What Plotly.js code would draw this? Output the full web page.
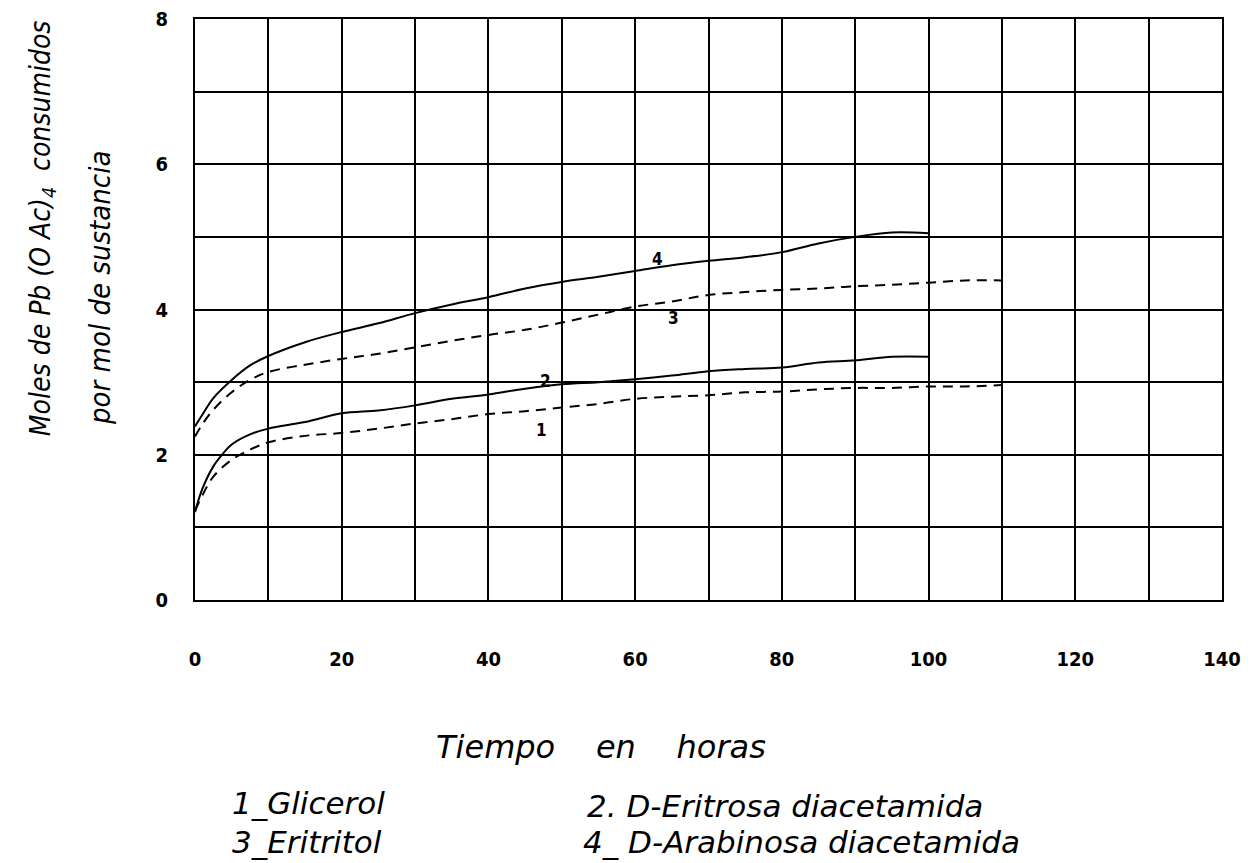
<!DOCTYPE html>
<html>
<head>
<meta charset="utf-8">
<script src="https://cdn.plot.ly/plotly-3.0.1.min.js"></script>
<style>html,body{margin:0;padding:0;background:#fff;}#chart{width:1255px;height:863px;}</style>
</head>
<body>
<div id="chart"></div>
<script>
// Time (hours) for each curve
const tGlicerol = [0, 1, 2.5, 5, 7.5, 10, 15, 20, 25, 30, 35, 40, 45, 50, 55, 60, 65, 70, 75, 80, 85, 90, 95, 100, 105, 110];
const yGlicerol = [1.23, 1.44, 1.70, 1.93, 2.07, 2.17, 2.26, 2.30, 2.36, 2.43, 2.49, 2.56, 2.60, 2.65, 2.70, 2.77, 2.80, 2.82, 2.86, 2.87, 2.90, 2.92, 2.92, 2.94, 2.94, 2.96];

const tEritrosa = [0, 1, 2.5, 3.7, 5, 7.5, 10, 15, 20, 25, 30, 35, 40, 45, 50, 55, 60, 65, 70, 75, 80, 85, 90, 95, 100];
const yEritrosa = [1.21, 1.53, 1.84, 2.00, 2.14, 2.28, 2.36, 2.45, 2.57, 2.61, 2.68, 2.77, 2.83, 2.91, 2.97, 3.00, 3.04, 3.09, 3.15, 3.18, 3.20, 3.27, 3.30, 3.35, 3.35];

const tEritritol = [0, 1, 2.5, 5, 7.5, 10, 15, 20, 25, 30, 35, 40, 45, 50, 55, 60, 65, 70, 75, 80, 85, 90, 95, 100, 105, 110];
const yEritritol = [2.25, 2.42, 2.62, 2.86, 3.03, 3.14, 3.24, 3.32, 3.39, 3.48, 3.57, 3.65, 3.72, 3.82, 3.93, 4.04, 4.11, 4.20, 4.24, 4.27, 4.29, 4.32, 4.34, 4.37, 4.40, 4.40];

const tArabinosa = [0, 1, 2.5, 5, 7.5, 10, 15, 20, 25, 30, 35, 40, 45, 50, 55, 60, 65, 70, 75, 80, 85, 90, 95, 100];
const yArabinosa = [2.39, 2.55, 2.78, 3.03, 3.23, 3.36, 3.55, 3.69, 3.81, 3.95, 4.07, 4.17, 4.29, 4.38, 4.45, 4.53, 4.61, 4.67, 4.72, 4.79, 4.91, 5.00, 5.06, 5.05];

// Curve number labels (data positions)
const curveLabels = ["1", "2", "3", "4"];
const curveLabelX = [47.3, 47.8, 65.2, 63.0];
const curveLabelY = [2.34, 3.02, 3.88, 4.70];

// Axis ticks
const xTickVals = [0, 20, 40, 60, 80, 100, 120, 140];
const xTickText = ["0", "20", "40", "60", "80", "100", "120", "140"];
const yTickVals = [0, 2, 4, 6, 8];
const yTickText = ["0", "2", "4", "6", "8"];

// Texts
const yTitleLine1 = "Moles de Pb (O Ac)<sub>4</sub>  consumidos";
const yTitleLine2 = "por mol de sustancia";
const xTitle = "Tiempo    en    horas";
const legendTexts = ["1_Glicerol", "2. D-Eritrosa diacetamida", "3_Eritritol", "4_ D-Arabinosa diacetamida"];

const hand = "DejaVu Sans Condensed, DejaVu Sans, sans-serif";
const handWide = "DejaVu Sans, sans-serif";

const lineStyle = (dash) => ({color: "#000", width: 2, shape: "spline", smoothing: 1, dash: dash});

const traces = [
  {x: tGlicerol, y: yGlicerol, mode: "lines", line: lineStyle("10px,7px"), name: legendTexts[0], hoverinfo: "skip"},
  {x: tEritrosa, y: yEritrosa, mode: "lines", line: lineStyle("solid"), name: legendTexts[1], hoverinfo: "skip"},
  {x: tEritritol, y: yEritritol, mode: "lines", line: lineStyle("10px,7px"), name: legendTexts[2], hoverinfo: "skip"},
  {x: tArabinosa, y: yArabinosa, mode: "lines", line: lineStyle("solid"), name: legendTexts[3], hoverinfo: "skip"}
];

const annotations = [];
for (let i = 0; i < curveLabels.length; i++) {
  annotations.push({x: curveLabelX[i], y: curveLabelY[i], xref: "x", yref: "y", text: curveLabels[i],
    xanchor: "center", yanchor: "middle",
    showarrow: false, font: {family: hand, size: 17, color: "#000", weight: "bold"}});
}
annotations.push({xref: "paper", yref: "paper", x: -0.149, y: 0.64, xanchor: "center", yanchor: "middle",
  text: yTitleLine1, textangle: -90,
  showarrow: false, font: {family: hand, size: 28, color: "#000", style: "italic"}});
annotations.push({xref: "paper", yref: "paper", x: -0.0925, y: 0.537, xanchor: "center", yanchor: "middle",
  text: yTitleLine2, textangle: -90,
  showarrow: false, font: {family: hand, size: 29, color: "#000", style: "italic"}});
annotations.push({xref: "paper", yref: "paper", x: 0.395, y: -0.253, xanchor: "center", yanchor: "middle",
  text: xTitle,
  showarrow: false, font: {family: handWide, size: 32, color: "#000", style: "italic"}});
const legX = [0.034, 0.38, 0.034, 0.376];
const legY = [-0.35, -0.355, -0.416, -0.416];
for (let i = 0; i < legendTexts.length; i++) {
  annotations.push({xref: "paper", yref: "paper", x: legX[i], y: legY[i], xanchor: "left", yanchor: "middle",
    text: legendTexts[i],
    showarrow: false, font: {family: handWide, size: 31, color: "#000", style: "italic"}});
}

const layout = {
  width: 1255, height: 863,
  margin: {l: 195, r: 33, t: 19, b: 263},
  paper_bgcolor: "#fff", plot_bgcolor: "#fff",
  showlegend: false,
  xaxis: {
    range: [0, 140], tickmode: "array", tickvals: xTickVals, ticktext: xTickText,
    showgrid: true, gridcolor: "#000", gridwidth: 2,
    minor: {tickmode: "linear", tick0: 0, dtick: 10, showgrid: true, gridcolor: "#000", gridwidth: 2},
    showline: true, linecolor: "#000", linewidth: 2, mirror: true,
    ticks: "outside", ticklen: 40, tickcolor: "rgba(0,0,0,0)",
    zeroline: false,
    tickfont: {family: hand, size: 20, color: "#000", weight: "bold"}
  },
  yaxis: {
    range: [0, 8], tickmode: "array", tickvals: yTickVals, ticktext: yTickText,
    showgrid: true, gridcolor: "#000", gridwidth: 2,
    minor: {tickmode: "linear", tick0: 0, dtick: 1, showgrid: true, gridcolor: "#000", gridwidth: 2},
    showline: true, linecolor: "#000", linewidth: 2, mirror: true,
    ticks: "outside", ticklen: 21, tickcolor: "rgba(0,0,0,0)",
    zeroline: false,
    tickfont: {family: hand, size: 20, color: "#000", weight: "bold"}
  },
  annotations: annotations
};

Plotly.newPlot("chart", traces, layout, {displayModeBar: false, staticPlot: true});
</script>
</body>
</html>
